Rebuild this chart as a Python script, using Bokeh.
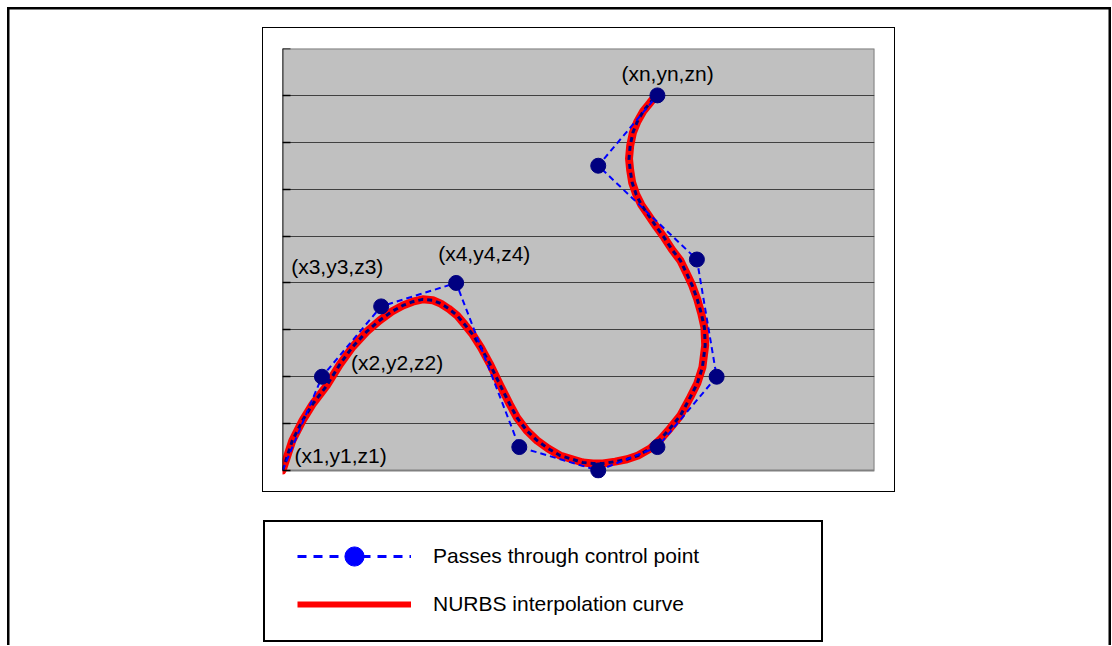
from bokeh.plotting import figure
from bokeh.models import (ColumnDataSource, Range1d, FixedTicker, BoxAnnotation,
                          Legend, LegendItem, CDSView, IndexFilter)
from bokeh.layouts import column
from bokeh.core.properties import value
from bokeh.embed import file_html
from bokeh.resources import INLINE

# ---------------- data ----------------
# control polygon ("Passes through control point")
ctrl_x = [0, 1, 2.5, 4.4, 6, 8, 9.5, 11, 10.5, 8, 9.5]
ctrl_y = [0, 2, 3.5, 4, 0.5, 0, 0.5, 2, 4.5, 6.5, 8]

# NURBS interpolation curve
curve_x = [0.00, 0.25, 0.51, 0.76, 1.12, 1.45, 1.78, 2.13, 2.46, 2.77, 3.05, 3.30,
           3.55, 3.81, 4.01, 4.21, 4.42, 4.62, 4.82, 5.03, 5.25, 5.51, 5.76, 5.94,
           6.19, 6.45, 6.73, 7.03, 7.34, 7.61, 7.87, 8.12, 8.43, 8.73, 9.01, 9.32,
           9.57, 9.82, 10.08, 10.33, 10.51, 10.64, 10.71, 10.69, 10.61, 10.51, 10.38,
           10.23, 10.08, 9.87, 9.67, 9.47, 9.26, 9.09, 8.96, 8.86, 8.81, 8.78, 8.81,
           8.88, 8.99, 9.14, 9.32, 9.47]
curve_y = [0.00, 0.64, 1.07, 1.41, 1.81, 2.26, 2.64, 2.96, 3.20, 3.39, 3.52, 3.60,
           3.65, 3.63, 3.56, 3.45, 3.31, 3.11, 2.90, 2.62, 2.28, 1.83, 1.41, 1.13,
           0.85, 0.64, 0.47, 0.32, 0.24, 0.17, 0.15, 0.15, 0.19, 0.24, 0.32, 0.47,
           0.66, 0.90, 1.17, 1.56, 1.86, 2.20, 2.67, 3.05, 3.35, 3.65, 3.95,
           4.22, 4.48, 4.71, 4.97, 5.20, 5.46, 5.67, 5.89, 6.14, 6.40, 6.65, 6.93,
           7.21, 7.44, 7.66, 7.85, 8.00]

# point labels, attached to control points
label_idx = [0, 1, 2, 3, 10]
label_text = ["(x1,y1,z1)", "(x2,y2,z2)", "(x3,y3,z3)", "(x4,y4,z4)", "(xn,yn,zn)"]

legend_labels = ["Passes through control point", "NURBS interpolation curve"]

# ---------------- styles ----------------
FONT = "Liberation Sans"
label_dx = [12, 29, -90, -18, -36]
label_dy = [-15.5, -14.5, -40, -29, -22]

ctrl_src = ColumnDataSource(dict(x=ctrl_x, y=ctrl_y))
curve_src = ColumnDataSource(dict(x=curve_x, y=curve_y))
lab_src = ColumnDataSource(dict(
    x=[ctrl_x[i] for i in label_idx],
    y=[ctrl_y[i] for i in label_idx],
    text=label_text, dx=label_dx, dy=label_dy))

# ---------------- chart ----------------
p = figure(width=637, height=465, output_backend="svg", toolbar_location=None,
           x_range=Range1d(0, 15), y_range=Range1d(-8 / 46.9, 9),
           x_axis_location=None,
           min_border_left=15, min_border_right=21, min_border_top=21, min_border_bottom=14,
           background_fill_color="white", border_fill_color=None,
           outline_line_color=None)

p.add_layout(BoxAnnotation(left=0, right=15, bottom=0, top=9,
                           fill_color="#C0C0C0", fill_alpha=1.0,
                           line_color="#808080", line_width=2, line_alpha=1.0,
                           level="image"))

p.xgrid.visible = False
p.ygrid.ticker = FixedTicker(ticks=[1, 2, 3, 4, 5, 6, 7, 8])
p.ygrid.grid_line_color = "#404040"
p.ygrid.grid_line_width = 1

p.yaxis.fixed_location = 0
p.yaxis.ticker = FixedTicker(ticks=list(range(10)))
p.yaxis.bounds = (0, 9)
p.yaxis.major_label_overrides = {i: "" for i in range(10)}
p.yaxis.major_label_text_color = None
p.yaxis.major_label_text_font_size = "1px"
p.yaxis.major_label_standoff = 0
p.yaxis.axis_label_standoff = 0
p.yaxis.major_tick_in = 8
p.yaxis.major_tick_out = 0
p.yaxis.minor_tick_in = 0
p.yaxis.minor_tick_out = 0
p.yaxis.minor_tick_line_color = None
p.yaxis.axis_line_color = "black"
p.yaxis.axis_line_width = 1.5
p.yaxis.major_tick_line_color = "black"
p.yaxis.major_tick_line_width = 1.5

p.line("x", "y", source=curve_src, line_color="#FF0000", line_width=8,
       line_cap="round", line_join="round")
p.line("x", "y", source=curve_src, line_color="#000080", line_width=3,
       line_dash="5 4")
p.line("x", "y", source=ctrl_src, line_color="#0000FF", line_width=2,
       line_dash="6 4")
p.scatter("x", "y", source=ctrl_src,
          view=CDSView(filter=IndexFilter(list(range(1, len(ctrl_x))))),
          size=15, fill_color="#000080", line_color="#000080")
p.text("x", "y", source=lab_src, text="text", x_offset="dx", y_offset="dy",
       text_font=value(FONT), text_font_size="21px", text_color="black",
       text_baseline="alphabetic", text_align="left")

# chart-area box: thin black frame drawn with inset shadows on the transparent canvas border
p.margin = (20, 0, 0, 251)
p.styles = {"box-shadow": ("inset 4px 0 0 0 #fff, inset 5px 0 0 0 #000, "
                           "inset 0 1px 0 0 #000, inset 0 -1px 0 0 #000, "
                           "inset -1px 0 0 0 #000")}

# ---------------- legend ----------------
# legend-only renderers share the chart data; their range keeps the data out of view
lp = figure(width=556, height=118, output_backend="svg", toolbar_location=None,
            x_axis_location=None, y_axis_location=None,
            x_range=Range1d(100, 101), y_range=Range1d(100, 101),
            min_border_left=24, min_border_top=2, min_border_right=0, min_border_bottom=0,
            outline_line_color=None, background_fill_color="white",
            border_fill_color="white")
lp.xgrid.visible = False
lp.ygrid.visible = False

lg_line = lp.line("x", "y", source=ctrl_src, line_color="#0000FF", line_width=3,
                  line_dash="9 7")
lg_pts = lp.scatter("x", "y", source=ctrl_src, size=14, fill_color="#0000FF",
                    line_color="#0000FF")
lg_red = lp.line("x", "y", source=curve_src, line_color="#FF0000", line_width=6)

legend = Legend(items=[LegendItem(label=legend_labels[0], renderers=[lg_line, lg_pts]),
                       LegendItem(label=legend_labels[1], renderers=[lg_red])],
                location="top_left", margin=0, padding=8, spacing=0,
                glyph_width=114, glyph_height=48, label_height=48,
                label_standoff=22, label_text_font=FONT,
                label_text_font_size="21px", label_text_color="black",
                border_line_alpha=0, background_fill_alpha=0)
lp.add_layout(legend, "center")

lp.margin = (30, 0, 0, 258)
lp.styles = {"outline": "2px solid black"}

root = column(p, lp, width=1104, height=638,
              styles={"box-shadow": "inset 2.5px 2.5px 0 0 #000, inset -2.5px 0 0 0 #000"})
root.margin = (7, 0, 0, 7)

open("out.html", "w").write(file_html(root, INLINE))
